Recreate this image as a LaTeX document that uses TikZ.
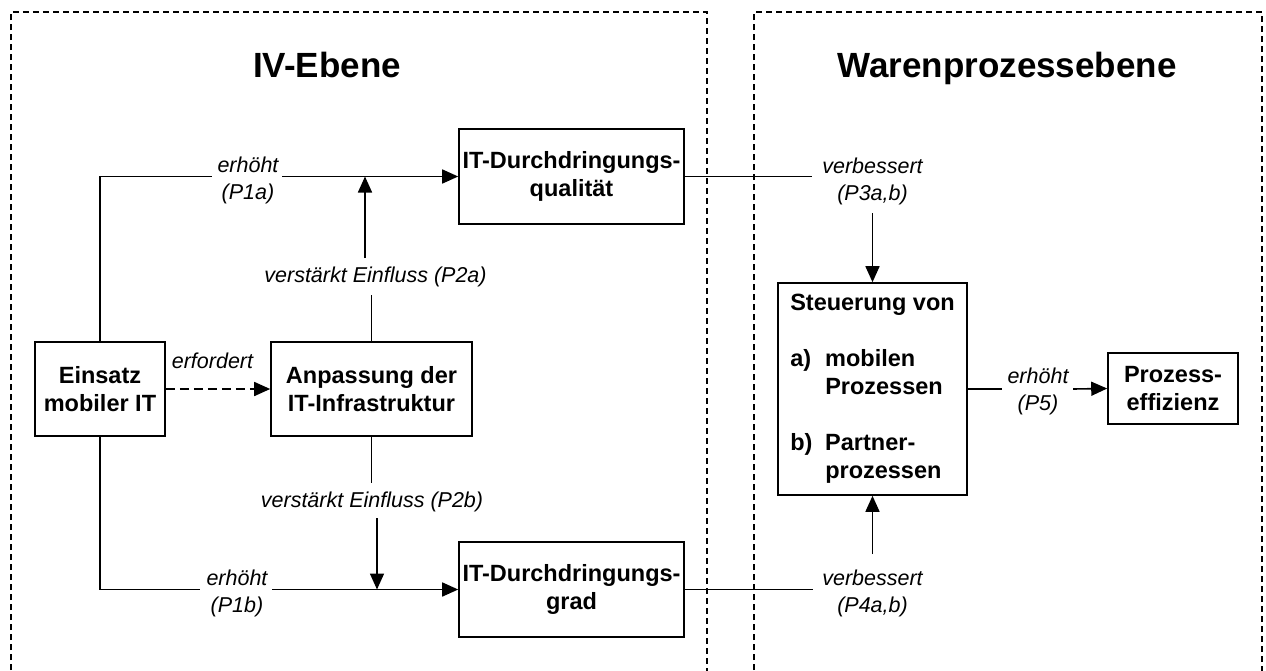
\documentclass[tikz,border=0pt]{standalone}
\usepackage{fontspec}
\setmainfont{Liberation Sans}
\usetikzlibrary{arrows.meta}
\begin{document}
\begin{tikzpicture}[x=1pt,y=-1pt,
  box/.style={draw, line width=1.6pt, rectangle, inner sep=0pt, align=center,
    font=\fontsize{23.5}{28}\selectfont\bfseries},
  lbl/.style={inner sep=0pt, align=center, font=\fontsize{21.5}{27}\selectfont\itshape},
  heading/.style={inner sep=0pt, anchor=base, font=\fontsize{35}{40}\selectfont\bfseries},
  conn/.style={line width=1.6pt},
  arr/.style={conn, -{Triangle[length=16pt,width=14pt]}},
  dasharr/.style={arr, dash pattern=on 9pt off 5pt},
  zone/.style={line width=1.4pt, dash pattern=on 6pt off 4pt}]

\useasboundingbox (0,0) rectangle (1266,670);
\clip (0,0) rectangle (1266,670);

% the two levels
\draw[zone] (11,680) -- (11,12) -- (707,12) -- (707,680);
\draw[zone] (754,680) -- (754,12) -- (1262,12) -- (1262,680);
\node[heading] (t1) at (327,77) {IV-Ebene};
\node[heading] (t2) at (1007,77) {Warenprozessebene};

% boxes
\node[box, minimum width=130pt, minimum height=94pt] (einsatz) at (100,389) {Einsatz\\mobiler IT};
\node[box, minimum width=201pt, minimum height=94pt] (anp) at (371.5,389) {Anpassung der\\IT-Infrastruktur};
\node[box, minimum width=225pt, minimum height=95pt] (quali) at (571.5,176.5) {IT-Durchdringungs-\\qualität};
\node[box, minimum width=225pt, minimum height=95pt] (grad) at (571.5,589.5) {IT-Durchdringungs-\\grad};
\node[box, minimum width=189pt, minimum height=212pt] (steu) at (872.5,389)
  {\begin{tabular}{@{}p{35pt}@{}l@{}}
    \multicolumn{2}{@{}l@{}}{Steuerung von}\\[28pt]
    a) & mobilen\\
       & Prozessen\\[28pt]
    b) & Partner-\\
       & prozessen
   \end{tabular}};
\node[box, minimum width=130pt, minimum height=71pt] (eff) at (1173,388.5) {Prozess-\\effizienz};

% labels
\node[lbl] (p1a) at (248,180) {erhöht\\(P1a)};
\node[lbl] (p1b) at (237,593) {erhöht\\(P1b)};
\node[lbl] (p2a) at (375.5,277) {verstärkt Einfluss (P2a)};
\node[lbl] (p2b) at (372,502) {verstärkt Einfluss (P2b)};
\node[lbl, anchor=base] (erf) at (212.5,368) {erfordert};
\node[lbl] (p3) at (872.5,181) {verbessert\\(P3a,b)};
\node[lbl] (p4) at (872.5,593) {verbessert\\(P4a,b)};
\node[lbl] (p5) at (1038,391) {erhöht\\(P5)};

% gap ends of the connectors around their labels
\coordinate (p1aL) at (212,176.5);
\coordinate (p1aR) at (282,176.5);
\coordinate (p1bL) at (200,589.5);
\coordinate (p1bR) at (272,589.5);
\coordinate (j2a) at (365,176.5);
\coordinate (p2aT) at (365,258);
\coordinate (p2aB) at (371.5,295);
\coordinate (j2b) at (377,589.5);
\coordinate (p2bT) at (371.5,483);
\coordinate (p2bB) at (377,518);
\coordinate (p3L) at (812,176.5);
\coordinate (p3B) at (872.5,213);
\coordinate (p4L) at (813,589.5);
\coordinate (p4T) at (872.5,554);
\coordinate (p5L) at (1002,389);
\coordinate (p5R) at (1073,389);

% IV level
\draw[conn] (einsatz.north) |- (p1aL);
\draw[arr] (p1aR) -- (quali.west);
\draw[conn] (einsatz.south) |- (p1bL);
\draw[arr] (p1bR) -- (grad.west);
\draw[dasharr] (einsatz.east) -- (anp.west);
\draw[conn] (anp.north) -- (p2aB);
\draw[arr] (p2aT) -- (j2a);
\draw[conn] (anp.south) -- (p2bT);
\draw[arr] (p2bB) -- (j2b);

% process level
\draw[conn] (quali.east) -- (p3L);
\draw[arr] (p3B) -- (steu.north);
\draw[conn] (grad.east) -- (p4L);
\draw[arr] (p4T) -- (steu.south);
\draw[conn] (steu.east |- p5L) -- (p5L);
\draw[arr] (p5R) -- (eff.west);
\end{tikzpicture}
\end{document}
